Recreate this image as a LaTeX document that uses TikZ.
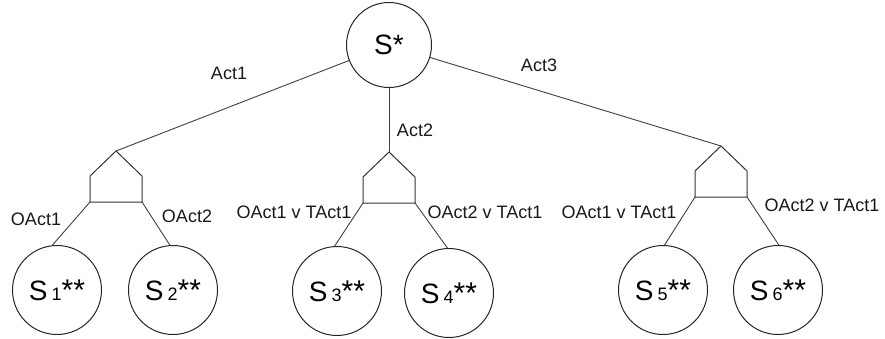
\documentclass[tikz,border=0pt]{standalone}
\usepackage{fontspec}
\setmainfont{Liberation Sans}
\begin{document}
\begin{tikzpicture}[x=1pt,y=-1pt,
  state/.style={circle,draw=black!85,line width=1pt,minimum size=89pt,inner sep=0pt},
  root/.style={circle,draw=black!85,line width=1pt,minimum size=85pt,inner sep=0pt},
  edge/.style={draw=black!75,line width=0.9pt},
  gate/.style={draw=black!80,line width=1pt,line join=miter},
  lbl/.style={font=\fontsize{18}{20}\selectfont,inner sep=0pt,text=black!90}]
\useasboundingbox (0,0) rectangle (885,339);
\newcommand{\bigS}[1]{{\fontsize{28}{30}\selectfont S}\hspace{4pt}{\fontsize{18}{20}\selectfont #1}{\fontsize{30}{30}\selectfont **}}
% pentagon-shaped split gate: apex, shoulders and bottom corners
\newcommand{\splitgate}[3]{%
  \coordinate (#1t) at (#2,#3);
  \coordinate (#1l) at (#2-26,#3+51);
  \coordinate (#1r) at (#2+26,#3+51);
  \draw[gate] (#1t) -- (#2+26,#3+25) -- (#1r) -- (#1l) -- (#2-26,#3+25) -- cycle;}

\node[root] (s0) at (389,45) {\fontsize{28}{30}\selectfont S*};

\splitgate{ga}{116}{151}
\splitgate{gb}{389}{152}
\splitgate{gc}{721}{146}

\node[state] (s1) at (57,290)  {\bigS{1}};
\node[state] (s2) at (173,290) {\bigS{2}};
\node[state] (s3) at (337,291) {\bigS{3}};
\node[state] (s4) at (449,293) {\bigS{4}};
\node[state] (s5) at (663,290) {\bigS{5}};
\node[state] (s6) at (778,290) {\bigS{6}};

\draw[edge] (s0) -- (gat);
\draw[edge] (s0) -- (gbt);
\draw[edge] (s0) -- (gct);

\draw[edge] (gal) -- (s1.96);
\draw[edge] (gar) -- (s2.94);
\draw[edge] (gbl) -- (s3.93);
\draw[edge] (gbr) -- (s4.92);
\draw[edge] (gcl) -- (s5.88);
\draw[edge] (gcr) -- (s6.89);

\node[lbl] (la1) at (229,73) {Act1};
\node[lbl] (la2) at (415,130) {Act2};
\node[lbl] (la3) at (539,65) {Act3};
\node[lbl] (lo1) at (36,219) {OAct1};
\node[lbl] (lo2) at (187,216) {OAct2};
\node[lbl] (lm1) at (294,212) {OAct1 v TAct1};
\node[lbl] (lm2) at (485,212) {OAct2 v TAct1};
\node[lbl] (lr1) at (619,212) {OAct1 v TAct1};
\node[lbl] (lr2) at (822,205) {OAct2 v TAct1};
\end{tikzpicture}
\end{document}
